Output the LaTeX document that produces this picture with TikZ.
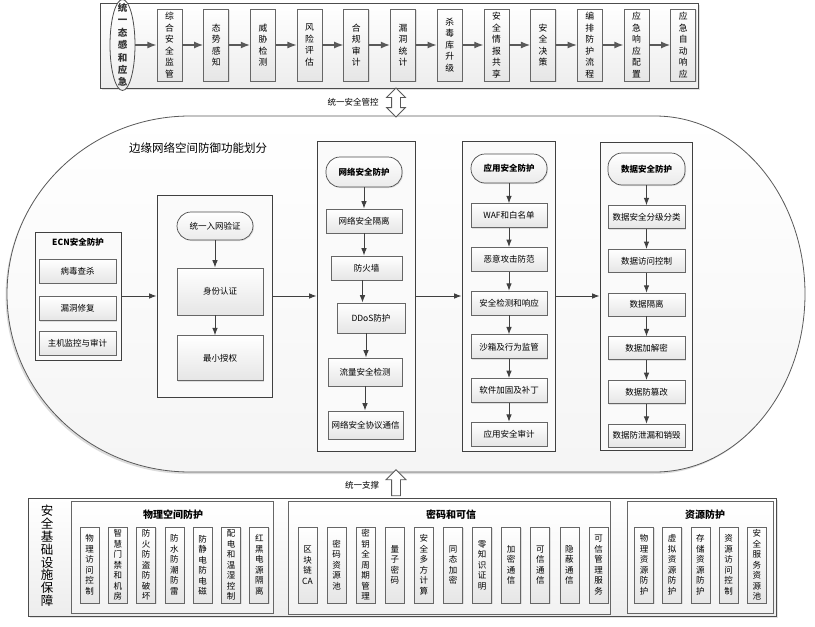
\documentclass[tikz,border=0pt]{standalone}
\usepackage{fontspec}
\setmainfont{Noto Sans CJK SC}
\usetikzlibrary{arrows.meta, positioning, shapes.geometric, shapes.arrows, shadows}

\begin{document}
\begin{tikzpicture}[x=1pt, y=-1pt, >=Latex, font=\fontsize{8.5}{10.5}\selectfont,
    barbox/.style={draw=black!70, line width=0.8pt, top color=white, bottom color=gray!14,
      drop shadow={shadow xshift=1.5pt, shadow yshift=-1.5pt, fill=gray!45}},
    outbox/.style={draw=black!75, line width=0.8pt, fill=white!96!gray},
    hdrbox/.style={draw=black!70, line width=0.7pt, rounded corners=14pt, top color=white, bottom color=gray!16,
      drop shadow={shadow xshift=1pt, shadow yshift=-1pt, fill=gray!45}, font=\fontsize{8.5}{10.5}\selectfont\bfseries},
    itembox/.style={draw=black!60, line width=0.7pt, top color=white, bottom color=gray!20,
      drop shadow={shadow xshift=1pt, shadow yshift=-1pt, fill=gray!45},
      minimum width=76pt, minimum height=24pt, inner sep=1pt},
    topbox/.style={itembox, minimum width=25pt, minimum height=72pt, inner sep=0pt, align=center,
      font=\fontsize{8.8}{11.5}\selectfont},
    grpbox/.style={draw=black!60, line width=0.8pt, top color=white, bottom color=gray!10,
      drop shadow={shadow xshift=1pt, shadow yshift=-1pt, fill=gray!45}},
    grptitle/.style={font=\fontsize{10}{12}\selectfont\bfseries},
    vbox/.style={itembox, minimum width=19pt, minimum height=76pt, inner sep=0pt, align=center},
    arr/.style={->, draw=black!75, line width=1pt},
    toparr/.style={->, draw=black!65, line width=1.4pt},
    blockarr/.style={draw=black!65, fill=white, line width=0.8pt, inner sep=4pt}]

  \useasboundingbox (0,0) rectangle (815,627);

  % Top bar
  \node[barbox, minimum width=598pt, minimum height=85pt] (topbar) at (399,45.5) {};
  \node[draw=black!70, line width=0.8pt, ellipse, top color=white, bottom color=gray!14,
    minimum width=25pt, minimum height=91pt, inner sep=0pt,
    label={[font=\fontsize{9.5}{12.4}\selectfont\bfseries, text=black!80, align=center]center:统\\一\\态\\感\\和\\应\\急}] (tsyj) at (122.5,45) {};
  \node[topbox] (zhjg) at (169.5,45) {综\\合\\安\\全\\监\\管};
  \node[topbox, right=21pt of zhjg] (tsgz) {态\\势\\感\\知};
  \node[topbox, right=21pt of tsgz] (wxjc) {威\\胁\\检\\测};
  \node[topbox, right=21pt of wxjc] (fxpg) {风\\险\\评\\估};
  \node[topbox, right=21pt of fxpg] (hgsj) {合\\规\\审\\计};
  \node[topbox, right=21pt of hgsj] (ldtj) {漏\\洞\\统\\计};
  \node[topbox, right=21pt of ldtj] (sdsj) {杀\\毒\\库\\升\\级};
  \node[topbox, right=21pt of sdsj] (qbgx) {安\\全\\情\\报\\共\\享};
  \node[topbox, right=21pt of qbgx] (aqjc) {安\\全\\决\\策};
  \node[topbox, right=21pt of aqjc] (bplc) {编\\排\\防\\护\\流\\程};
  \node[topbox, right=21pt of bplc] (xypz) {应\\急\\响\\应\\配\\置};
  \node[topbox, right=21pt of xypz] (zdxy) {应\\急\\自\\动\\响\\应};

  \draw[toparr] (tsyj) -- (zhjg);
  \draw[toparr] (zhjg) -- (tsgz);
  \draw[toparr] (tsgz) -- (wxjc);
  \draw[toparr] (wxjc) -- (fxpg);
  \draw[toparr] (fxpg) -- (hgsj);
  \draw[toparr] (hgsj) -- (ldtj);
  \draw[toparr] (ldtj) -- (sdsj);
  \draw[toparr] (sdsj) -- (qbgx);
  \draw[toparr] (qbgx) -- (aqjc);
  \draw[toparr] (aqjc) -- (bplc);
  \draw[toparr] (bplc) -- (xypz);
  \draw[toparr] (xypz) -- (zdxy);

  % Middle area
  \draw[draw=black!65, line width=0.8pt, top color=white, bottom color=gray!8,
    drop shadow={shadow xshift=-1.5pt, shadow yshift=-2pt, fill=gray!55}]
    (190,116) -- (655,116) arc[start angle=-90, end angle=90, x radius=150, y radius=178]
    -- (190,472) arc[start angle=90, end angle=270, x radius=183, y radius=178] -- cycle;

  \node[blockarr, double arrow, rotate=90, minimum height=29pt, double arrow head extend=5pt] (gk) at (396,102.5) {};
  \node (gklbl) at (353,102) {统一安全管控};

  \node[font=\fontsize{11.5}{14}\selectfont] (title) at (198,148) {边缘网络空间防御功能划分};

  % ECN
  \node[outbox, minimum width=86pt, minimum height=128pt] (ecn) at (78,296) {};
  \node[font=\fontsize{8.5}{10.5}\selectfont\bfseries] (ecnt) at (78,242) {ECN安全防护};
  \node[itembox, minimum width=77pt] (bdcs) at (77.5,271) {病毒查杀};
  \node[itembox, minimum width=77pt, below=13pt of bdcs] (ldxf) {漏洞修复};
  \node[itembox, minimum width=77pt, below=10pt of ldxf] (zjjk) {主机监控与审计};

  % Network access
  \node[outbox, minimum width=115pt, minimum height=202pt] (rwyz) at (214.5,296) {};
  \node[hdrbox, font=\fontsize{8.5}{10.5}\selectfont, minimum width=76pt, minimum height=28pt] (rwyzt) at (215,226) {统一入网验证};
  \node[itembox, minimum width=86pt, minimum height=47pt] (sfrz) at (220,291.5) {身份认证};
  \node[itembox, minimum width=86pt, minimum height=45pt, below=20pt of sfrz] (zxsq) {最小授权};
  \draw[arr] (rwyzt.south) -- (rwyzt.south |- sfrz.north);
  \draw[arr] (rwyzt.south |- sfrz.south) -- (rwyzt.south |- zxsq.north);

  % Network security
  \node[outbox, minimum width=98pt, minimum height=310pt] (wlaq) at (366,296) {};
  \node[hdrbox, minimum width=76pt, minimum height=30pt] (wlaqt) at (364,172) {网络安全防护};
  \node[itembox] (aqgl) at (364,221) {网络安全隔离};
  \node[itembox, minimum width=71pt] (fhq) at (366.5,268) {防火墙};
  \node[itembox, minimum width=68pt, minimum height=30pt] (ddos) at (371,318) {DDoS防护};
  \node[itembox, minimum width=74pt, minimum height=28pt] (lljc) at (365,372) {流量安全检测};
  \node[itembox, minimum width=75pt, minimum height=28pt] (xytx) at (365.5,425) {网络安全协议通信};
  \draw[arr] (wlaqt.south) -- (wlaqt.south |- aqgl.north);
  \draw[arr] (aqgl.south) -- (aqgl.south |- fhq.north);
  \draw[arr] ([xshift=-4pt]fhq.south) -- ([xshift=-4pt]fhq.south |- ddos.north);
  \draw[arr] ([xshift=-5pt]ddos.south) -- ([xshift=-5pt]ddos.south |- lljc.north);
  \draw[arr] (lljc.south) -- (lljc.south |- xytx.north);

  % Application security
  \node[outbox, minimum width=93pt, minimum height=310pt] (yyaq) at (508.5,296) {};
  \node[hdrbox, minimum width=76pt, minimum height=29pt] (yyaqt) at (509,168.5) {应用安全防护};
  \node[itembox, below=20pt of yyaqt] (waf) {WAF和白名单};
  \node[itembox, below=19pt of waf] (eygj) {恶意攻击防范};
  \node[itembox, below=19pt of eygj] (jcxy) {安全检测和响应};
  \node[itembox, below=19pt of jcxy] (sxjg) {沙箱及行为监管};
  \node[itembox, below=19pt of sxjg] (jgbd) {软件加固及补丁};
  \node[itembox, below=19pt of jgbd] (yysj) {应用安全审计};
  \draw[arr] (yyaqt) -- (waf);
  \draw[arr] (waf) -- (eygj);
  \draw[arr] (eygj) -- (jcxy);
  \draw[arr] (jcxy) -- (sxjg);
  \draw[arr] (sxjg) -- (jgbd);
  \draw[arr] (jgbd) -- (yysj);

  % Data security
  \node[outbox, minimum width=92pt, minimum height=308pt] (sjaq) at (646,296) {};
  \node[hdrbox, minimum width=77pt, minimum height=32pt] (sjaqt) at (646.5,169) {数据安全防护};
  \node[itembox, minimum width=77pt, minimum height=23pt, below=20pt of sjaqt] (fjfl) {数据安全分级分类};
  \node[itembox, minimum width=77pt, minimum height=23pt, below=20pt of fjfl] (fwkz) {数据访问控制};
  \node[itembox, minimum width=77pt, minimum height=23pt, below=20pt of fwkz] (sjgl) {数据隔离};
  \node[itembox, minimum width=77pt, minimum height=23pt, below=20pt of sjgl] (jjm) {数据加解密};
  \node[itembox, minimum width=77pt, minimum height=23pt, below=20pt of jjm] (fcg) {数据防篡改};
  \node[itembox, minimum width=77pt, minimum height=23pt, below=20pt of fcg] (xlxh) {数据防泄漏和销毁};
  \draw[arr] (sjaqt) -- (fjfl);
  \draw[arr] (fjfl) -- (fwkz);
  \draw[arr] (fwkz) -- (sjgl);
  \draw[arr] (sjgl) -- (jjm);
  \draw[arr] (jjm) -- (fcg);
  \draw[arr] (fcg) -- (xlxh);

  \draw[arr] (ecn) -- (rwyz);
  \draw[arr] (rwyz) -- (wlaq);
  \draw[arr] (wlaq) -- (yyaq);
  \draw[arr] (yyaq) -- (sjaq);

  % Bottom
  \node[barbox, minimum width=748pt, minimum height=118pt] (jcss) at (402,557) {};
  \node[font=\fontsize{12.5}{12.8}\selectfont, align=center] (jcsst) at (47,556) {安\\全\\基\\础\\设\\施\\保\\障};

  \node[blockarr, single arrow, rotate=90, minimum height=26pt, single arrow head extend=5.5pt] (zc) at (396,485) {};
  \node (zclbl) at (362,485) {统一支撑};

  \node[grpbox, minimum width=202pt, minimum height=112pt] (wlkj) at (172,557) {};
  \node[grptitle] (wlkjt) at (173,515) {物理空间防护};
  \node[vbox] (wlfw) at (89.5,565) {物\\理\\访\\问\\控\\制};
  \node[vbox, right=8.6pt of wlfw] (zhmj) {智\\慧\\门\\禁\\和\\机\\房};
  \node[vbox, right=8.6pt of zhmj] (fhfd) {防\\火\\防\\盗\\防\\破\\坏};
  \node[vbox, right=8.6pt of fhfd] (fsfc) {防\\水\\防\\潮\\防\\雷};
  \node[vbox, right=8.6pt of fsfc] (fjd) {防\\静\\电\\防\\电\\磁};
  \node[vbox, right=8.6pt of fjd] (pdws) {配\\电\\和\\温\\湿\\控\\制};
  \node[vbox, right=8.6pt of pdws] (hhdy) {红\\黑\\电\\源\\隔\\离};

  \node[grpbox, minimum width=322pt, minimum height=113pt] (mmkx) at (449,557.5) {};
  \node[grptitle] (mmkxt) at (451,515) {密码和可信};
  \node[vbox] (qkl) at (307.5,565) {区\\块\\链\\CA};
  \node[vbox, right=9.4pt of qkl] (mmzy) {密\\码\\资\\源\\池};
  \node[vbox, right=9.4pt of mmzy] (mygl) {密\\钥\\全\\周\\期\\管\\理};
  \node[vbox, right=9.4pt of mygl] (lzmm) {量\\子\\密\\码};
  \node[vbox, right=9.4pt of lzmm] (dfjs) {安\\全\\多\\方\\计\\算};
  \node[vbox, right=9.4pt of dfjs] (ttjm) {同\\态\\加\\密};
  \node[vbox, right=9.4pt of ttjm] (lzs) {零\\知\\识\\证\\明};
  \node[vbox, right=9.4pt of lzs] (jmtx) {加\\密\\通\\信};
  \node[vbox, right=9.4pt of jmtx] (kxtx) {可\\信\\通\\信};
  \node[vbox, right=9.4pt of kxtx] (ybtx) {隐\\蔽\\通\\信};
  \node[vbox, right=9.4pt of ybtx] (kxgl) {可\\信\\管\\理\\服\\务};

  \node[grpbox, minimum width=146pt, minimum height=112pt] (zyfh) at (700,557) {};
  \node[grptitle] (zyfht) at (705,515) {资源防护};
  \node[vbox] (wlzy) at (644,565) {物\\理\\资\\源\\防\\护};
  \node[vbox, right=8.5pt of wlzy] (xnzy) {虚\\拟\\资\\源\\防\\护};
  \node[vbox, right=8.5pt of xnzy] (cczy) {存\\储\\资\\源\\防\\护};
  \node[vbox, right=8.5pt of cczy] (zyfw) {资\\源\\访\\问\\控\\制};
  \node[vbox, right=8.5pt of zyfw] (fwzy) {安\\全\\服\\务\\资\\源\\池};

\end{tikzpicture}
\end{document}
